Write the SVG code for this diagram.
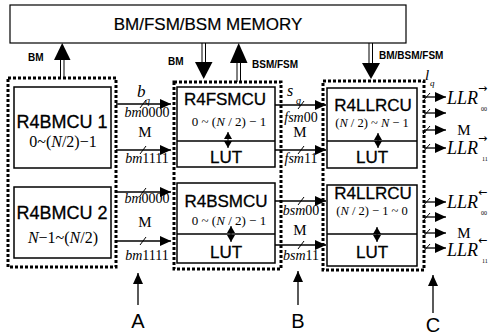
<svg xmlns="http://www.w3.org/2000/svg" width="498" height="336" viewBox="0 0 498 336">
<defs>
<style>
.box{fill:#fff;stroke:#000;stroke-width:1.5}
.dot{fill:none;stroke:#000;stroke-width:3;stroke-dasharray:3 2}
.ln{stroke:#000;stroke-width:1.3;fill:none}
.thin{stroke:#000;stroke-width:1;fill:none}
.sans{font-family:"Liberation Sans",Arial,sans-serif;fill:#000}
.lbl{font-family:"Liberation Sans",Arial,sans-serif;font-weight:bold;font-size:10px;fill:#000}
.ser{font-family:"Liberation Serif","Times New Roman",serif;fill:#000}
.arr{font-family:"DejaVu Sans",sans-serif;font-size:11px;fill:#000}
.big{font-size:17px;stroke:#000;stroke-width:0.3}
.mid{text-anchor:middle}
</style>
<marker id="ah" markerUnits="userSpaceOnUse" markerWidth="11" markerHeight="10" refX="11" refY="5" orient="auto">
<path d="M0,0 L11,5 L0,10 z" fill="#000"/>
</marker>
<marker id="dh" markerUnits="userSpaceOnUse" markerWidth="8" markerHeight="8" refX="7" refY="4" orient="auto-start-reverse">
<path d="M0,0 L7,4 L0,8 z" fill="#000"/>
</marker>
</defs>

<g id="memory">
<rect x="10" y="5" width="396" height="38" fill="#fff" stroke="#000" stroke-width="1.2"/>
<text class="sans mid" x="208" y="30" font-size="17" stroke="#000" stroke-width="0.2">BM/FSM/BSM MEMORY</text>
</g>

<g id="groupA">
<rect class="dot" x="8" y="78" width="108" height="189"/>
</g>
<g id="R4BMCU1">
<rect class="box" x="14" y="87" width="97" height="81"/>
<text class="sans mid big" x="62" y="128" style="font-size:18px">R4BMCU 1</text>
<text class="ser mid" x="63" y="147" font-size="16">0~(<tspan font-style="italic">N</tspan>/2)−1</text>
</g>
<g id="R4BMCU2">
<rect class="box" x="14" y="187" width="97" height="71"/>
<text class="sans mid big" x="62" y="219" style="font-size:18px">R4BMCU 2</text>
<text class="ser mid" x="63" y="243" font-size="16"><tspan font-style="italic">N</tspan>−1~(<tspan font-style="italic">N</tspan>/2)</text>
</g>

<g id="groupB">
<rect class="dot" x="174" y="82" width="107" height="187"/>
</g>
<g id="R4FSMCU">
<rect class="box" x="177" y="87" width="98" height="80"/>
<line class="ln" x1="177" y1="141" x2="275" y2="141"/>
<text class="sans mid big" x="225" y="105">R4FSMCU</text>
<text class="ser mid" x="229" y="126" font-size="13">0 ~ (<tspan font-style="italic">N</tspan> / 2) − 1</text>
<text class="sans mid big" x="226" y="163">LUT</text>
<line class="thin" x1="228" y1="132" x2="228" y2="148" marker-start="url(#dh)" marker-end="url(#dh)"/>
</g>
<g id="R4BSMCU">
<rect class="box" x="177" y="183" width="98" height="80"/>
<line class="ln" x1="177" y1="234" x2="275" y2="234"/>
<text class="sans mid big" x="226" y="207">R4BSMCU</text>
<text class="ser mid" x="229" y="225" font-size="13">0 ~ (<tspan font-style="italic">N</tspan> / 2) − 1</text>
<text class="sans mid big" x="226" y="258">LUT</text>
<line class="thin" x1="231" y1="226" x2="231" y2="242" marker-start="url(#dh)" marker-end="url(#dh)"/>
</g>

<g id="groupC">
<rect class="dot" x="323" y="81" width="101" height="189"/>
</g>
<g id="R4LLRCU1">
<rect class="box" x="327" y="88" width="90" height="80"/>
<line class="ln" x1="327" y1="141" x2="417" y2="141"/>
<text class="sans mid big" x="373" y="111">R4LLRCU</text>
<text class="ser mid" x="372" y="127" font-size="12.5">(<tspan font-style="italic">N</tspan> / 2) ~ <tspan font-style="italic">N</tspan> − 1</text>
<text class="sans mid big" x="372" y="163">LUT</text>
<line class="thin" x1="378" y1="133" x2="378" y2="148" marker-start="url(#dh)" marker-end="url(#dh)"/>
</g>
<g id="R4LLRCU2">
<rect class="box" x="327" y="185" width="90" height="81"/>
<line class="ln" x1="327" y1="234" x2="417" y2="234"/>
<text class="sans mid big" x="373" y="199">R4LLRCU</text>
<text class="ser mid" x="372" y="215" font-size="12.5">(<tspan font-style="italic">N</tspan> / 2) − 1 ~ 0</text>
<text class="sans mid big" x="372" y="258">LUT</text>
<line class="thin" x1="377" y1="227" x2="377" y2="242" marker-start="url(#dh)" marker-end="url(#dh)"/>
</g>

<g id="connectors">
<line class="thin" x1="60.5" y1="59" x2="60.5" y2="78"/>
<line class="thin" x1="64" y1="59" x2="64" y2="78"/>
<polygon points="62.2,43 54,60 70.5,60" fill="#000"/>
<text class="lbl" x="28" y="61">BM</text>

<line class="thin" x1="202" y1="43" x2="202" y2="63"/>
<line class="thin" x1="205.5" y1="43" x2="205.5" y2="63"/>
<polygon points="195,62 212.5,62 203.7,79" fill="#000"/>
<text class="lbl" x="168" y="65">BM</text>

<line class="thin" x1="237" y1="62" x2="237" y2="82"/>
<line class="thin" x1="240.5" y1="62" x2="240.5" y2="82"/>
<polygon points="238.7,43 230,63 247.5,63" fill="#000"/>
<text class="lbl" x="252" y="68">BSM/FSM</text>

<line class="thin" x1="369" y1="43" x2="369" y2="64"/>
<line class="thin" x1="372.5" y1="43" x2="372.5" y2="64"/>
<polygon points="362,63 380,63 371,79" fill="#000"/>
<text class="lbl" x="379" y="59">BM/BSM/FSM</text>

<line class="ln" x1="116" y1="104" x2="171" y2="104" marker-end="url(#ah)"/>
<line class="ln" x1="116" y1="150" x2="171" y2="150" marker-end="url(#ah)"/>
<line class="ln" x1="116" y1="192" x2="171" y2="192" marker-end="url(#ah)"/>
<line class="ln" x1="116" y1="241" x2="171" y2="241" marker-end="url(#ah)"/>
<path class="thin" d="M140,108 L146,100 M140,154 L146,146 M140,196 L146,188 M140,245 L146,237"/>
<text class="ser" x="137" y="97" font-size="17" font-style="italic">b</text>
<text class="ser" x="145" y="104" font-size="10" font-style="italic">q</text>
<text class="ser mid" x="147" y="117" font-size="14"><tspan font-style="italic">bm</tspan>0000</text>
<text class="ser mid" x="145" y="137" font-size="15">M</text>
<text class="ser mid" x="147" y="163" font-size="14"><tspan font-style="italic">bm</tspan>1111</text>
<text class="ser mid" x="147" y="203" font-size="14"><tspan font-style="italic">bm</tspan>0000</text>
<text class="ser mid" x="145" y="227" font-size="15">M</text>
<text class="ser mid" x="147" y="260" font-size="14"><tspan font-style="italic">bm</tspan>1111</text>

<line class="ln" x1="275" y1="105" x2="326" y2="105" marker-end="url(#ah)"/>
<line class="ln" x1="275" y1="150" x2="326" y2="150" marker-end="url(#ah)"/>
<line class="ln" x1="275" y1="201" x2="326" y2="201" marker-end="url(#ah)"/>
<line class="ln" x1="275" y1="245" x2="326" y2="245" marker-end="url(#ah)"/>
<path class="thin" d="M298,109 L304,101 M298,154 L304,146 M298,205 L304,197 M298,249 L304,241"/>
<text class="ser" x="287" y="96" font-size="16" font-style="italic">s</text>
<text class="ser" x="296" y="104" font-size="10" font-style="italic">q</text>
<text class="ser mid" x="301" y="122" font-size="14"><tspan font-style="italic">fsm</tspan>00</text>
<text class="ser mid" x="300" y="137" font-size="15">M</text>
<text class="ser mid" x="301" y="163" font-size="14"><tspan font-style="italic">fsm</tspan>11</text>
<text class="ser mid" x="301" y="215" font-size="14"><tspan font-style="italic">bsm</tspan>00</text>
<text class="ser mid" x="300" y="235" font-size="15">M</text>
<text class="ser mid" x="301" y="260" font-size="14"><tspan font-style="italic">bsm</tspan>11</text>

<line class="ln" x1="424" y1="97" x2="446" y2="97" marker-end="url(#ah)"/>
<line class="ln" x1="424" y1="113" x2="446" y2="113" marker-end="url(#ah)"/>
<line class="ln" x1="424" y1="130" x2="446" y2="130" marker-end="url(#ah)"/>
<line class="ln" x1="424" y1="148" x2="446" y2="148" marker-end="url(#ah)"/>
<line class="ln" x1="424" y1="202" x2="446" y2="202" marker-end="url(#ah)"/>
<line class="ln" x1="424" y1="217" x2="446" y2="217" marker-end="url(#ah)"/>
<line class="ln" x1="424" y1="233" x2="446" y2="233" marker-end="url(#ah)"/>
<line class="ln" x1="424" y1="248" x2="446" y2="248" marker-end="url(#ah)"/>
<path class="thin" d="M423,101 L430,93 M423,117 L430,109 M423,134 L430,126 M423,152 L430,144 M423,206 L430,198 M423,221 L430,213 M423,237 L430,229 M423,252 L430,244"/>
<text class="ser" x="425" y="80" font-size="15" font-style="italic">l</text>
<text class="ser" x="430" y="86" font-size="9" font-style="italic">q</text>

<text class="ser" x="447" y="104" font-size="18" font-style="italic">LLR</text>
<text class="arr" x="478" y="92">→</text>
<text class="ser" x="481" y="111" font-size="6">00</text>
<text class="ser mid" x="464" y="135" font-size="15">M</text>
<text class="ser" x="447" y="154" font-size="18" font-style="italic">LLR</text>
<text class="arr" x="478" y="142">→</text>
<text class="ser" x="482" y="161" font-size="6">11</text>

<text class="ser" x="447" y="208" font-size="18" font-style="italic">LLR</text>
<text class="arr" x="478" y="196">←</text>
<text class="ser" x="481" y="215" font-size="6">00</text>
<text class="ser mid" x="464" y="238" font-size="15">M</text>
<text class="ser" x="447" y="256" font-size="18" font-style="italic">LLR</text>
<text class="arr" x="478" y="244">←</text>
<text class="ser" x="482" y="263" font-size="6">11</text>

<line class="ln" x1="138" y1="305" x2="138" y2="273" marker-end="url(#ah)"/>
<line class="ln" x1="298" y1="305" x2="298" y2="271" marker-end="url(#ah)"/>
<line class="ln" x1="433" y1="313" x2="433" y2="275" marker-end="url(#ah)"/>
</g>
<g id="labels">
<text class="sans mid" x="138" y="328" font-size="20">A</text>
<text class="sans mid" x="298" y="328" font-size="20">B</text>
<text class="sans mid" x="433" y="332" font-size="20">C</text>
</g>
</svg>
